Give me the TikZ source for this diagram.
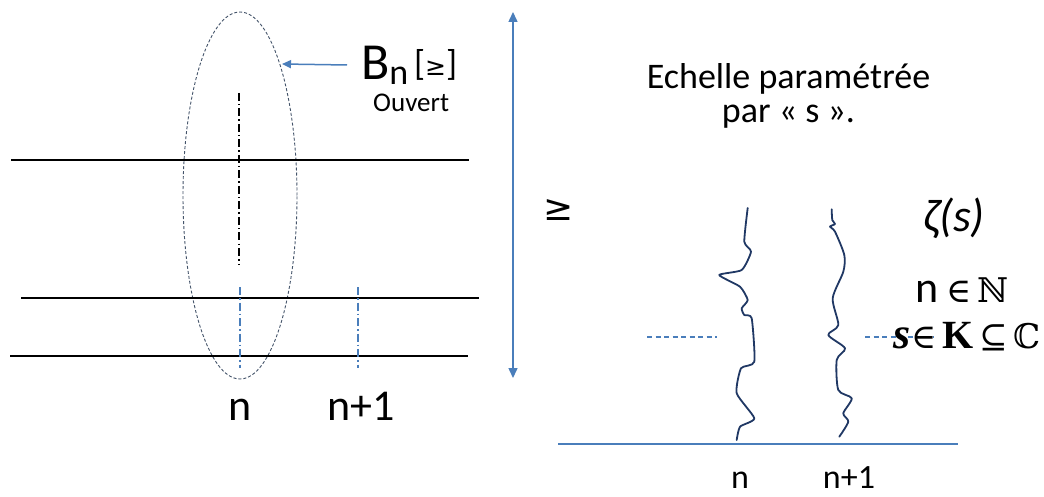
\documentclass[tikz,border=0pt]{standalone}
\usepackage{fontspec}
\setmainfont{Carlito}
\newfontfamily\symserif{DejaVu Serif}
\newfontfamily\symsans{DejaVu Sans}
\newfontfamily\lserif{Liberation Serif}
\usetikzlibrary{arrows.meta,shapes.geometric}
\definecolor{lineblue}{HTML}{4A7EBB}
\definecolor{navy}{HTML}{203864}
\definecolor{ellgray}{HTML}{44546A}
\newcommand{\fsz}[1]{\fontsize{#1}{#1}\selectfont}
\begin{document}
\begin{tikzpicture}[x=1pt,y=-1pt,
  blk/.style={line width=1.5pt,black},
  blkdd/.style={line width=1.5pt,black,dash pattern=on 8pt off 3pt on 1.5pt off 3pt},
  bluedd/.style={line width=1.4pt,lineblue,dash pattern=on 8pt off 3pt on 1.5pt off 3pt},
  bluedash/.style={line width=1.2pt,lineblue,dash pattern=on 5pt off 3.5pt},
  blueline/.style={line width=1.5pt,lineblue},
  wave/.style={line width=1.8pt,navy,line cap=round,line join=round},
  lbl/.style={inner sep=0pt,anchor=base}]
\useasboundingbox[fill=white] (0,0) rectangle (1044,497);

% ellipse B_n
\node (ell) [draw=ellgray, line width=0.9pt, dash pattern=on 3pt off 2pt, ellipse,
  minimum width=114pt, minimum height=367pt, inner sep=0pt] at (240,195.5) {};

% horizontal black lines
\coordinate (h1a) at (11,160);  \coordinate (h1b) at (469,160);
\coordinate (h2a) at (21,298);  \coordinate (h2b) at (479,298);
\coordinate (h3a) at (10,356);  \coordinate (h3b) at (468,356);
\draw[blk] (h1a) -- (h1b);
\draw[blk] (h2a) -- (h2b);
\draw[blk] (h3a) -- (h3b);

% dash-dot verticals
\coordinate (v0a) at (239,93);  \coordinate (v0b) at (239,264);
\draw[blkdd] (v0a) -- (v0b);
\coordinate (v1a) at (240,287); \coordinate (v1b) at (240,368);
\coordinate (v2a) at (358,287); \coordinate (v2b) at (358,368);
\draw[bluedd] (v1a) -- (v1b);
\draw[bluedd] (v2a) -- (v2b);

% labels n, n+1 (left)
\node[lbl] (nL) at (240,420) {\fsz{44}n};
\node[lbl] (n1L) at (361,420) {\fsz{44}n+1};

% B_n label
\node[lbl,anchor=base west] (Bn) at (361,80) {\fsz{52}B\raisebox{-5pt}{\fsz{36}n}};
\node[lbl,anchor=base west] (Bge) at (414,76) {\fsz{36}[{\symsans\fsz{25}≥}]};
\node[lbl,anchor=base west] (ouv) at (373,112) {\fsz{27}Ouvert};
\coordinate (arS) at (347,65);
\coordinate (arE) at (282,64);
\draw[blueline,-{Triangle[length=9pt,width=8pt]}] (arS) -- (arE);

% vertical double arrow
\coordinate (dA) at (513,12);
\coordinate (dB) at (513,378);
\draw[blueline,{Triangle[length=10pt,width=9pt]}-{Triangle[length=10pt,width=9pt]}] (dA) -- (dB);
\node[lbl] (ge) at (559,221) {\symsans\fsz{36}≥};

% right text
\node[lbl] (ech) at (788.5,89) {\fsz{36}Echelle paramétrée};
\node[lbl] (par) at (788.5,123) {\fsz{36}par « s ».};

% base line
\coordinate (bA) at (558,444);
\coordinate (bB) at (958,444);
\draw[blueline] (bA) -- (bB);

% dashed blue
\coordinate (dl1) at (647,337); \coordinate (dl2) at (717,337);
\draw[bluedash] (dl1) -- (dl2);
\coordinate (dr1) at (865,337); \coordinate (dr2) at (934,337);
\draw[bluedash] (dr1) -- (dr2);

% wavy curves
\draw[wave] plot[smooth,tension=0.35] coordinates {
 (747.7,208) (744.3,241.7) (751,251.7) (741.7,270) (719.3,275) (740,286.7)
 (747.7,300) (741.7,308.3) (744.3,315) (751.7,318.3) (754.3,361.7) (741,368.3)
 (736.7,393.3) (754.3,418.3) (740,426.7) (736.7,440)};
\draw[wave] plot[smooth,tension=0.45] coordinates {
 (831.7,209.3) (832.3,220) (835,224) (830,226.7) (835,231.7) (844.3,255)
 (843.3,271.7) (832.7,298.3) (838.3,325) (828.3,335) (845,348.3) (836.7,360)
 (838.3,390) (851.7,398.3) (843.3,413.3) (848.3,421.7) (839.3,436.7)};

% bottom labels
\node[lbl] (nR) at (740,488) {\fsz{34}n};
\node[lbl] (n1R) at (849,488) {\fsz{34}n+1};

% zeta and sets
\node[lbl] (zeta) at (954,232) {\fsz{46}\textit{ζ(s)}};
\node[lbl] (nN) at (962,302) {\fsz{44}n\,{\symserif\fsz{34}∈\,ℕ}};
\node[lbl] (sK) at (967,348) {{\lserif\bfseries\itshape\fsz{44}s}\,{\symserif\fsz{34}∈\,}{\lserif\bfseries\fsz{40}K}{\symserif\fsz{34}\,⊆\,ℂ}};
\end{tikzpicture}
\end{document}
